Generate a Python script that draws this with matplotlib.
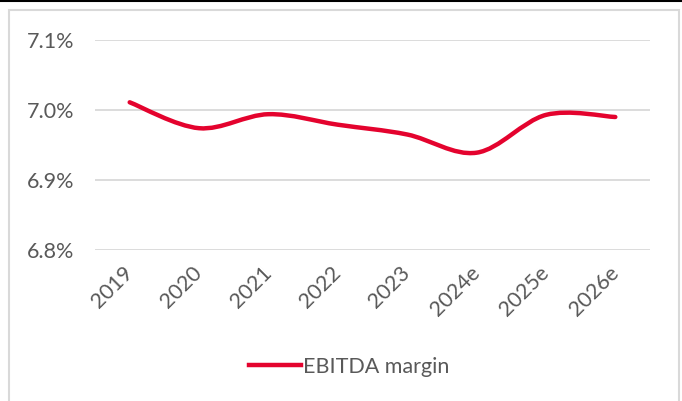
import matplotlib
matplotlib.use("Agg")
import matplotlib.pyplot as plt
from matplotlib.path import Path
from matplotlib.patches import PathPatch, Rectangle
from matplotlib.lines import Line2D
from matplotlib.transforms import ScaledTranslation
import numpy as np

categories = ["2019", "2020", "2021", "2022", "2023", "2024e", "2025e", "2026e"]
ebitda_margin = [7.011, 6.974, 6.994, 6.979, 6.965, 6.939, 6.993, 6.990]
y_ticks = [6.8, 6.9, 7.0, 7.1]
series_name = "EBITDA margin"

RED = "#E4032E"
GRAY_TXT = "#595959"
GRID = "#D9D9D9"
FONT = "Lato"
FS = 15.5

fig = plt.figure(figsize=(6.82, 4.01), dpi=100)
W, H = 682, 401
ax = fig.add_axes([95 / W, 1 - 250 / H, (650 - 95) / W, (250 - 40) / H])

x = np.arange(len(categories))
y = np.array(ebitda_margin)

# Smoothed line (Catmull-Rom -> cubic Bezier), similar to Excel smoothing
verts = [(x[0], y[0])]
codes = [Path.MOVETO]
n = len(x)
for i in range(n - 1):
    p0 = (x[max(i - 1, 0)], y[max(i - 1, 0)])
    p1 = (x[i], y[i])
    p2 = (x[i + 1], y[i + 1])
    p3 = (x[min(i + 2, n - 1)], y[min(i + 2, n - 1)])
    t = 1 / 6
    c1 = (p1[0] + (p2[0] - p0[0]) * t, p1[1] + (p2[1] - p0[1]) * t)
    c2 = (p2[0] - (p3[0] - p1[0]) * t, p2[1] - (p3[1] - p1[1]) * t)
    verts += [c1, c2, p2]
    codes += [Path.CURVE4] * 3
path = Path(verts, codes)
ax.add_patch(PathPatch(path, facecolor="none", edgecolor=RED, lw=3.2,
                       capstyle="round", joinstyle="round", zorder=3))

ax.set_xlim(-0.5, n - 0.5)
ax.set_ylim(6.8, 7.1)
ax.set_yticks(y_ticks)
ax.set_yticklabels([f"{v:.1f}%" for v in y_ticks], fontsize=FS, color=GRAY_TXT, family=FONT)
ax.set_xticks(x)
ax.set_xticklabels(categories, fontsize=FS, color=GRAY_TXT, family=FONT,
                   rotation=45, ha="right", va="center", rotation_mode="anchor")
shift = ScaledTranslation(7 / 100, 0, fig.dpi_scale_trans)
for lab in ax.get_xticklabels():
    lab.set_transform(lab.get_transform() + shift)
ax.tick_params(axis="both", length=0)
ax.tick_params(axis="y", pad=15)
ax.tick_params(axis="x", pad=14)
ax.grid(axis="y", color=GRID, lw=1.3)
ax.set_axisbelow(True)
for s in ax.spines.values():
    s.set_visible(False)

# legend
leg_handle = Line2D([], [], color=RED, lw=3.2)
fig.legend([leg_handle], [series_name], loc="center", bbox_to_anchor=(349 / W, 1 - 367 / H),
           frameon=False, handlelength=2.4, handletextpad=0.1,
           prop={"family": FONT, "size": FS}, labelcolor=GRAY_TXT)

# chart frame
fig.add_artist(Rectangle((9 / W, -0.05), (679 - 9) / W, (1 - 10 / H) + 0.05,
                         transform=fig.transFigure, fill=False, edgecolor="#D9D9D9", lw=1.5))
fig.add_artist(Line2D([0, 1], [1 - 0.5 / H, 1 - 0.5 / H], transform=fig.transFigure,
                      color="black", lw=1.5))

fig.savefig("out.png", dpi=100)
